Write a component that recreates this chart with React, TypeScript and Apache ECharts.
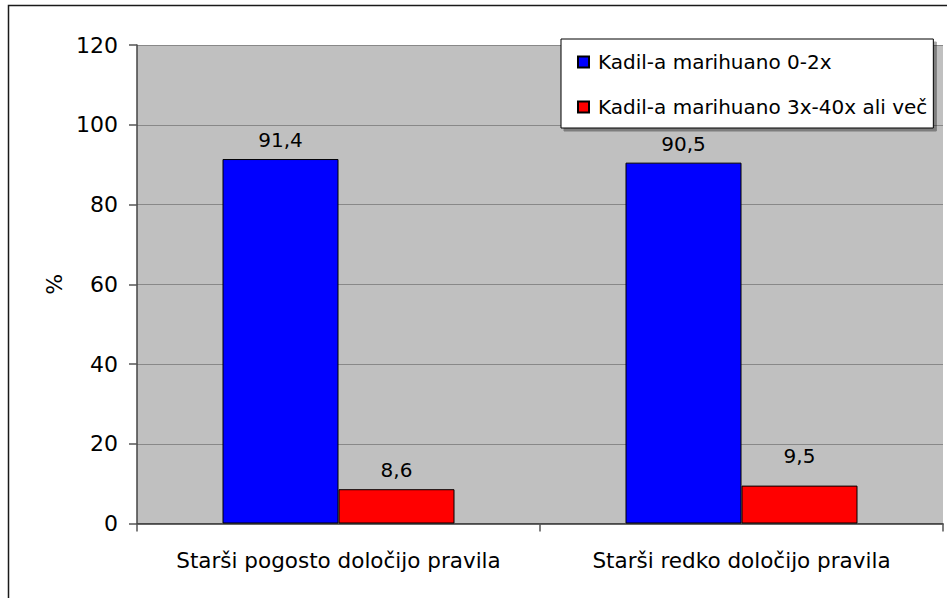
import React, { useEffect, useRef } from "react";
import * as echarts from "echarts";

const categories = ["Starši pogosto določijo pravila", "Starši redko določijo pravila"];
const seriesNames = ["Kadil-a marihuano 0-2x", "Kadil-a marihuano 3x-40x ali več"];
const lowUse = [91.4, 90.5];
const highUse = [8.6, 9.5];
const yTicks = { min: 0, max: 120, interval: 20 };

const FONT = "DejaVu Sans";

export default function App() {
  const ref = useRef<HTMLDivElement>(null);
  useEffect(() => {
    if (!ref.current) return;
    const chart = echarts.init(ref.current, undefined, { renderer: "svg" });
    const fmt = (p: any) => String(p.value).replace(".", ",");
    const labelBase = {
      show: true,
      position: "top",
      distance: 9,
      color: "#000",
      fontFamily: FONT,
      fontSize: 20,
      formatter: fmt,
    };
    chart.setOption({
      animation: false,
      backgroundColor: "#ffffff",
      textStyle: { fontFamily: FONT },
      graphic: [
        {
          type: "polyline",
          shape: { points: [[8.5, 600], [8.5, 5.5], [947, 5.5]] },
          style: { stroke: "#1a1a1a", lineWidth: 1.5, fill: "none" },
          silent: true,
        },
      ],
      grid: {
        left: 137,
        top: 45,
        right: 8,
        bottom: 74.5,
        show: true,
        backgroundColor: "#c0c0c0",
        borderWidth: 0,
      },
      legend: {
        orient: "vertical",
        left: 561,
        top: 39,
        padding: [13, 6, 11, 16],
        itemGap: 25,
        itemWidth: 11,
        itemHeight: 11,
        icon: "rect",
        backgroundColor: "#ffffff",
        borderColor: "#000000",
        borderWidth: 1,
        shadowColor: "rgba(0,0,0,0.35)",
        shadowOffsetX: 3,
        shadowOffsetY: 3,
        shadowBlur: 0,
        textStyle: {
          fontFamily: FONT,
          fontSize: 20,
          color: "#000",
          lineHeight: 20,
          padding: [0, 0, 0, 4],
        },
        data: seriesNames,
      },
      xAxis: {
        type: "category",
        data: categories,
        axisLine: { show: true, lineStyle: { color: "#333", width: 1.5 } },
        axisTick: { show: true, length: 8, alignWithLabel: false, lineStyle: { color: "#555", width: 1.5 } },
        axisLabel: { fontFamily: FONT, fontSize: 21.5, color: "#000", margin: 26, interval: 0 },
        splitLine: { show: false },
      },
      yAxis: {
        type: "value",
        min: yTicks.min,
        max: yTicks.max,
        interval: yTicks.interval,
        name: "%",
        nameLocation: "middle",
        nameRotate: 90,
        nameGap: 72,
        nameTextStyle: { fontFamily: FONT, fontSize: 22, color: "#000" },
        axisLine: { show: true, lineStyle: { color: "#444", width: 1.5 } },
        axisTick: { show: true, length: 8, lineStyle: { color: "#555", width: 1.5 } },
        axisLabel: { fontFamily: FONT, fontSize: 22, color: "#000", margin: 19 },
        splitLine: { show: true, lineStyle: { color: "#888", width: 1 } },
      },
      series: [
        {
          name: seriesNames[0],
          type: "bar",
          data: lowUse,
          barWidth: 116,
          barGap: "0%",
          itemStyle: { color: "#0000ff", borderColor: "#000", borderWidth: 1 },
          label: labelBase,
        },
        {
          name: seriesNames[1],
          type: "bar",
          data: highUse.map((v, i) => (i === 1 ? { value: v, label: { distance: 20 } } : v)),
          barWidth: 116,
          barGap: "0%",
          itemStyle: { color: "#ff0000", borderColor: "#000", borderWidth: 1 },
          label: labelBase,
        },
      ],
    });
    return () => chart.dispose();
  }, []);
  return (
    <div
      ref={ref}
      style={{ position: "fixed", left: 0, top: 0, width: 951, height: 598 }}
    />
  );
}
